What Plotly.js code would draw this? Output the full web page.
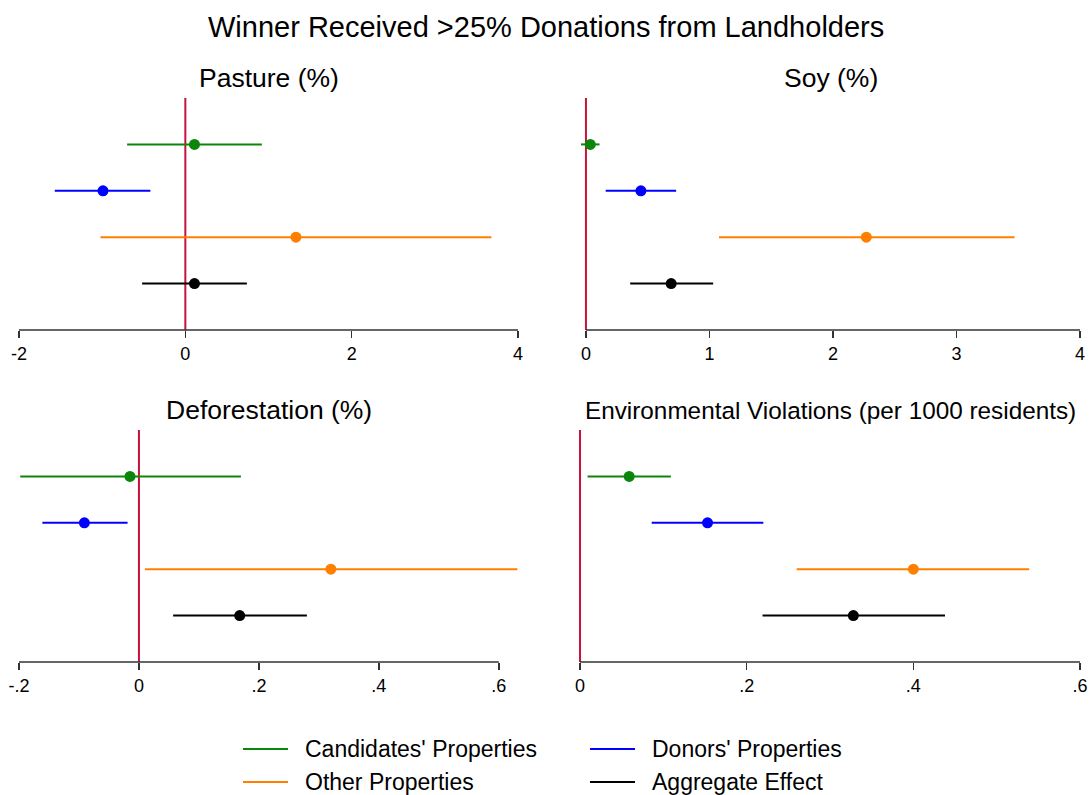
<!DOCTYPE html>
<html>
<head>
<meta charset="utf-8">
<script src="https://cdn.plot.ly/plotly-3.0.1.min.js"></script>
<style>html,body{margin:0;padding:0;background:#fff;}#chart{width:1091px;height:795px;}</style>
</head>
<body>
<div id="chart"></div>
<script>
// ---- data ----
const categories = ["Candidates' Properties", "Donors' Properties", "Other Properties", "Aggregate Effect"];
const panelTitles = ["Pasture (%)", "Soy (%)", "Deforestation (%)", "Environmental Violations (per 1000 residents)"];
const mainTitle = "Winner Received >25% Donations from Landholders";

const pastureEst = [0.11, -0.99, 1.33, 0.11];
const pastureLo  = [-0.70, -1.57, -1.02, -0.52];
const pastureHi  = [0.92, -0.42, 3.68, 0.74];

const soyEst = [0.035, 0.445, 2.27, 0.69];
const soyLo  = [-0.04, 0.16, 1.077, 0.358];
const soyHi  = [0.11, 0.73, 3.47, 1.03];

const deforEst = [-0.015, -0.091, 0.320, 0.168];
const deforLo  = [-0.198, -0.161, 0.010, 0.057];
const deforHi  = [0.170, -0.019, 0.631, 0.280];

const envEst = [0.059, 0.153, 0.400, 0.328];
const envLo  = [0.009, 0.086, 0.260, 0.219];
const envHi  = [0.109, 0.220, 0.539, 0.438];

const pastureTicks = [-2, 0, 2, 4];
const pastureTickText = ["-2", "0", "2", "4"];
const soyTicks = [0, 1, 2, 3, 4];
const soyTickText = ["0", "1", "2", "3", "4"];
const deforTicks = [-0.2, 0, 0.2, 0.4, 0.6];
const deforTickText = ["-.2", "0", ".2", ".4", ".6"];
const envTicks = [0, 0.2, 0.4, 0.6];
const envTickText = ["0", ".2", ".4", ".6"];

// ---- styling ----
const colors = ["#0a870a", "#0000ff", "#ff7f00", "#000000"];
const refColor = "#c8103a";
const FONT = "Liberation Sans, Arial, sans-serif";
const W = 1091, H = 795;

const panels = [
  {est: pastureEst, lo: pastureLo, hi: pastureHi, ticks: pastureTicks, text: pastureTickText, range: [-2, 4],       xpx: [19, 518],     ypx: [98, 330]},
  {est: soyEst,     lo: soyLo,     hi: soyHi,     ticks: soyTicks,     text: soyTickText,     range: [-0.04, 4],    xpx: [581, 1080],   ypx: [98, 330]},
  {est: deforEst,   lo: deforLo,   hi: deforHi,   ticks: deforTicks,   text: deforTickText,   range: [-0.2, 0.632], xpx: [19, 518],     ypx: [430, 662]},
  {est: envEst,     lo: envLo,     hi: envHi,     ticks: envTicks,     text: envTickText,     range: [-0.004, 0.6], xpx: [576.7, 1080], ypx: [430, 662]}
];

const traces = [];
const layout = {
  width: W, height: H,
  margin: {l: 0, r: 0, t: 0, b: 0, autoexpand: false},
  paper_bgcolor: "#fff", plot_bgcolor: "#fff",
  font: {family: FONT, color: "#000"},
  showlegend: false,
  shapes: [],
  annotations: []
};

panels.forEach((p, i) => {
  const n = i + 1;
  const xa = "x" + (n === 1 ? "" : n), ya = "y" + (n === 1 ? "" : n);
  const xKey = "xaxis" + (n === 1 ? "" : n), yKey = "yaxis" + (n === 1 ? "" : n);
  layout[xKey] = {
    domain: [p.xpx[0] / W, p.xpx[1] / W],
    anchor: ya, range: p.range, fixedrange: true, automargin: false,
    tickmode: "array", tickvals: p.ticks, ticktext: p.text,
    ticks: "outside", ticklen: 7, tickwidth: 1.5, tickcolor: "#333",
    showline: false, showgrid: false, zeroline: false,
    tickfont: {family: FONT, size: 18, color: "#000"}
  };
  layout[yKey] = {
    domain: [1 - p.ypx[1] / H, 1 - p.ypx[0] / H],
    anchor: xa, type: "category", categoryorder: "array", categoryarray: categories,
    range: [4, -1], fixedrange: true, automargin: false,
    showticklabels: false, showgrid: false, zeroline: false, showline: false, ticks: ""
  };
  // axis line from first to last tick
  layout.shapes.push({type: "line", xref: xa, yref: ya + " domain",
    x0: p.ticks[0], x1: p.ticks[p.ticks.length - 1], y0: 0, y1: 0,
    line: {color: "#333", width: 1.5}, layer: "above"});
  // reference line at zero
  layout.shapes.push({type: "line", xref: xa, yref: ya + " domain",
    x0: 0, x1: 0, y0: 0, y1: 1, line: {color: refColor, width: 2}, layer: "below"});
  categories.forEach((c, k) => {
    traces.push({
      type: "scatter", mode: "markers", xaxis: xa, yaxis: ya,
      x: [p.est[k]], y: [c], name: c, showlegend: false, hoverinfo: "x",
      marker: {color: colors[k], size: 11},
      error_x: {type: "data", symmetric: false, array: [p.hi[k] - p.est[k]], arrayminus: [p.est[k] - p.lo[k]],
                color: colors[k], thickness: 2, width: 0}
    });
  });
  layout.annotations.push({
    text: panelTitles[i], xref: "paper", yref: "paper",
    x: (i % 2 === 0 ? 268.5 : 830.5) / W, y: 1 - (i < 2 ? 78 : 410) / H,
    xanchor: "center", yanchor: "middle", showarrow: false,
    font: {family: FONT, size: i === 3 ? 24.3 : 26.5, color: "#000"}
  });
});

// legend (2 columns x 2 rows) drawn in paper coordinates
const legendCols = [243, 590];
const legendRows = [749, 782];
categories.forEach((c, k) => {
  const lx = legendCols[k % 2], ly = legendRows[Math.floor(k / 2)];
  layout.shapes.push({type: "line", xref: "paper", yref: "paper",
    x0: lx / W, x1: (lx + 45) / W, y0: 1 - ly / H, y1: 1 - ly / H,
    line: {color: colors[k], width: 2}});
  layout.annotations.push({text: c, xref: "paper", yref: "paper",
    x: (lx + 60) / W, y: 1 - ly / H, xanchor: "left", yanchor: "middle", showarrow: false,
    font: {family: FONT, size: 23, color: "#000"}});
});

layout.annotations.push({
  text: mainTitle, xref: "paper", yref: "paper", x: 546 / W, y: 1 - 27 / H,
  xanchor: "center", yanchor: "middle", showarrow: false,
  font: {family: FONT, size: 29, color: "#000"}
});

Plotly.newPlot("chart", traces, layout, {displayModeBar: false, staticPlot: true});
</script>
</body>
</html>
